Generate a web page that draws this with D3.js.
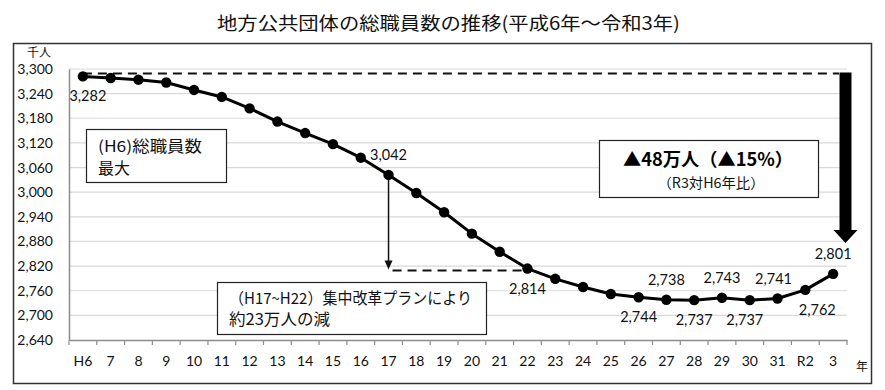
<!DOCTYPE html>
<html>
<head>
<meta charset="utf-8">
<script src="https://cdn.jsdelivr.net/npm/d3@7"></script>
<style>
  body { margin: 0; background: #fff; }
  text { font-family: Lato, "Noto Sans CJK JP", sans-serif; }
  .jp { font-family: "Noto Sans CJK JP", sans-serif; }
</style>
</head>
<body>
<svg id="chart" width="885" height="390"></svg>
<script>
// data
const years = ["H6","7","8","9","10","11","12","13","14","15","16","17","18","19","20",
  "21","22","23","24","25","26","27","28","29","30","31","R2","3"];
const staff = [3282,3278,3274,3267,3249,3232,3204,3172,3144,3117,3084,3042,2998,2951,2899,
  2855,2814,2789,2769,2752,2744,2738,2737,2743,2737,2741,2762,2801];
const yTicks = [2640,2700,2760,2820,2880,2940,3000,3060,3120,3180,3240,3300];
// which points carry a value label, and on which side
const labelled = ["H6","17","22","26","27","28","29","30","31","R2","3"];
const labelSide = ["below","above","below","below","above","below","above","below","above","below","above"];

const svg = d3.select("#chart");
const fmt = d3.format(",");

const x = d3.scaleBand().domain(years).range([69, 847]);
const y = d3.scaleLinear().domain([2640, 3300]).range([340, 69]);
const cx = d => x(d) + x.bandwidth() / 2;

// outer frame
svg.append("rect")
  .attr("x", 13.5).attr("y", 43.5).attr("width", 858).attr("height", 340)
  .attr("fill", "none").attr("stroke", "#333").attr("stroke-width", 1.5);

// jp text helper, width fitted to the reference
function jpText(tx, ty, size, len, str, anchor) {
  return svg.append("text").attr("class", "jp")
    .attr("x", tx).attr("y", ty).attr("font-size", size).attr("fill", "#111")
    .attr("text-anchor", anchor || "start")
    .attr("textLength", len).attr("lengthAdjust", "spacingAndGlyphs")
    .text(str);
}

// title
jpText(448.5, 30, 18, 463, "地方公共団体の総職員数の推移(平成6年～令和3年)", "middle");

// grid
svg.append("g").selectAll("line").data(yTicks.slice(1)).join("line")
  .attr("x1", 69).attr("x2", 847)
  .attr("y1", d => y(d)).attr("y2", d => y(d))
  .attr("stroke", "#d9d9d9").attr("stroke-width", 1.2);

// y axis
const yAxis = svg.append("g").attr("transform", "translate(69,0)")
  .call(d3.axisLeft(y).tickValues(yTicks).tickFormat(fmt).tickSize(0).tickPadding(16));
yAxis.select(".domain").attr("stroke", "#8c8c8c").attr("stroke-width", 1.5);
yAxis.selectAll("text").attr("font-size", 14).attr("fill", "#111")
  .attr("font-family", "Lato, sans-serif");

// x axis
const xAxis = svg.append("g").attr("transform", "translate(0,340)")
  .call(d3.axisBottom(x).tickSize(0).tickPadding(16));
xAxis.select(".domain").attr("stroke", "#8c8c8c").attr("stroke-width", 1.5);
xAxis.selectAll("text").attr("font-size", 14).attr("fill", "#111")
  .attr("font-family", "Lato, sans-serif");
svg.append("g").selectAll("line").data(years.concat(["end"])).join("line")
  .attr("x1", (d, i) => 69 + i * x.bandwidth()).attr("x2", (d, i) => 69 + i * x.bandwidth())
  .attr("y1", 340).attr("y2", 345)
  .attr("stroke", "#8c8c8c").attr("stroke-width", 1.2);

svg.append("text").attr("class", "jp").attr("x", 856).attr("y", 371)
  .attr("font-size", 12).attr("fill", "#111").text("年");
svg.append("text").attr("class", "jp").attr("x", 27).attr("y", 57)
  .attr("font-size", 12).attr("fill", "#111").text("千人");

// dashed reference lines
svg.append("line")
  .attr("x1", cx("H6")).attr("x2", 839)
  .attr("y1", y(staff[0]) - 3).attr("y2", y(staff[0]) - 3)
  .attr("stroke", "#111").attr("stroke-width", 2).attr("stroke-dasharray", "9,6");
svg.append("line")
  .attr("x1", cx("17") + 4).attr("x2", cx("22"))
  .attr("y1", y(staff[16]) + 2).attr("y2", y(staff[16]) + 2)
  .attr("stroke", "#111").attr("stroke-width", 2).attr("stroke-dasharray", "9,6");

// thin arrow H17 -> H22 level
const ax = cx("17");
svg.append("line").attr("x1", ax).attr("x2", ax)
  .attr("y1", y(staff[11])).attr("y2", y(staff[16]) - 6)
  .attr("stroke", "#111").attr("stroke-width", 1.5);
svg.append("path")
  .attr("d", `M${ax - 4},${y(staff[16]) - 8} L${ax + 4},${y(staff[16]) - 8} L${ax},${y(staff[16]) + 1} Z`)
  .attr("fill", "#111");

// thick arrow on the right
const bx = 845.5, barTop = y(staff[0]) - 4, headTop = 230, tip = 243;
svg.append("path")
  .attr("d", `M${bx - 6},${barTop} L${bx + 6},${barTop} L${bx + 6},${headTop} L${bx + 12},${headTop}
    L${bx},${tip} L${bx - 12},${headTop} L${bx - 6},${headTop} Z`)
  .attr("fill", "#000");

// line + points
svg.append("path").datum(staff)
  .attr("fill", "none").attr("stroke", "#000").attr("stroke-width", 3)
  .attr("stroke-linejoin", "round")
  .attr("d", d3.line().x((d, i) => cx(years[i])).y(d => y(d)));
svg.append("g").selectAll("circle").data(staff).join("circle")
  .attr("cx", (d, i) => cx(years[i])).attr("cy", d => y(d)).attr("r", 5.2)
  .attr("fill", "#000");

// value labels
const nudge = { "H6": 5, "30": -5, "R2": 12, "31": -4 };
svg.append("g").selectAll("text").data(labelled).join("text")
  .attr("x", d => cx(d) + (nudge[d] || 0))
  .attr("y", (d, i) => {
    const v = staff[years.indexOf(d)];
    return labelSide[i] === "above" ? y(v) - 15 : y(v) + 25;
  })
  .attr("text-anchor", "middle").attr("font-size", 14.5).attr("fill", "#111")
  .text(d => fmt(staff[years.indexOf(d)]));

// annotation boxes
function box(x0, y0, bw, bh) {
  svg.append("rect").attr("x", x0 + 0.5).attr("y", y0 + 0.5)
    .attr("width", bw).attr("height", bh)
    .attr("fill", "#fff").attr("stroke", "#222").attr("stroke-width", 1.2);
}
box(86, 129, 140, 53);
jpText(98, 152, 15.5, 104, "(H6)総職員数");
jpText(98, 174, 15.5, 32, "最大");

box(217, 282, 269, 52);
jpText(229, 304, 15.5, 243, "（H17~H22）集中改革プランにより");
jpText(229, 325, 15.5, 101, "約23万人の減");

box(599, 140, 219, 57);
jpText(708, 166, 18, 170, "▲48万人（▲15%）", "middle")
  .attr("font-weight", 700).attr("fill", "#000");
jpText(711, 188, 14, 107, "（R3対H6年比）", "middle");
</script>
</body>
</html>
